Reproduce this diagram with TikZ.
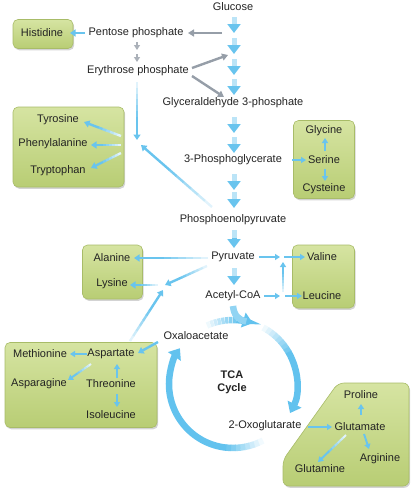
\documentclass[tikz,border=0pt]{standalone}
\usepackage{fontspec}
\setmainfont{Liberation Sans}
\usetikzlibrary{arrows.meta,shadows,calc}
\definecolor{abl}{RGB}{105,196,238}
\definecolor{cyb}{RGB}{98,194,238}
\definecolor{agr}{RGB}{150,158,168}
\definecolor{txt}{RGB}{35,35,35}
\definecolor{boxtop}{RGB}{214,228,162}
\definecolor{boxbot}{RGB}{184,205,116}
\definecolor{boxedge}{RGB}{168,188,104}
\tikzset{
 lbl/.style={font=\fontsize{11}{13}\selectfont, text=txt, inner sep=1pt},
 gbox/.style={rounded corners=5pt, top color=boxtop, bottom color=boxbot, draw=boxedge, line width=0.6pt,
   drop shadow={shadow xshift=1.2pt, shadow yshift=-1.8pt, opacity=0.35}},
 barrow/.style={draw=abl, line width=2.4pt, -{Triangle[width=7pt,length=5.5pt]}},
 sarrow/.style={draw=abl, line width=2pt, -{Triangle[width=6pt,length=5pt]}},
 garrow/.style={draw=agr, line width=2.4pt, -{Triangle[width=7pt,length=6pt]}},
 gsmall/.style={draw=agr!80!white, line width=1.6pt, -{Triangle[width=6pt,length=5pt]}},
 chev/.style={draw=abl, line width=5pt, -{Triangle[width=13pt,length=9pt]}},
 cycline/.style={line width=6.5pt},
}
\newcommand\fadearr[3]{%
  \foreach \k in {0,...,5}{%
    \pgfmathsetmacro\fa{\k/10}%
    \pgfmathsetmacro\fb{(\k+1)/10+0.005}%
    \pgfmathtruncatemacro\pc{20+\k*14}%
    \draw[#1, -, draw=abl!\pc!white] ($(#2)!\fa!(#3)$) -- ($(#2)!\fb!(#3)$);
  }%
  \draw[#1] ($(#2)!0.6!(#3)$) -- (#3);
}
\begin{document}
\begin{tikzpicture}[x=1pt,y=-1pt]
\useasboundingbox (0,0) rectangle (414,493);

% ---------- boxes ----------
\node[gbox, minimum width=60pt, minimum height=29pt] (hisbox) at (43,34) {};
\node[gbox, minimum width=111pt, minimum height=80pt] (tyrbox) at (68.5,147) {};
\node[gbox, minimum width=61pt, minimum height=78pt] (glybox) at (324,159.5) {};
\node[gbox, minimum width=60pt, minimum height=54pt] (alabox) at (112.5,272) {};
\node[gbox, minimum width=62pt, minimum height=63pt] (valbox) at (323.5,276.5) {};
\node[gbox, minimum width=152pt, minimum height=85pt] (metbox) at (81,385) {};
\path[gbox, rounded corners=6pt] (338,383) -- (409,383) -- (409,486) -- (283,486) -- (283,460) -- cycle;

% ---------- main labels ----------
\node[lbl] (glucose) at (233,7) {Glucose};
\node[lbl] (pentose) at (136,33) {Pentose phosphate};
\node[lbl] (erythrose) at (138,71) {Erythrose phosphate};
\node[lbl] (gap) at (233,103) {Glyceraldehyde 3-phosphate};
\node[lbl] (pga) at (233,160) {3-Phosphoglycerate};
\node[lbl] (pep) at (233,220) {Phosphoenolpyruvate};
\node[lbl] (pyr) at (233,257) {Pyruvate};
\node[lbl] (acoa) at (233,296) {Acetyl-CoA};
\node[lbl] (oxa) at (196,336) {Oxaloacetate};
\node[lbl, font=\bfseries\fontsize{11}{13}\selectfont, align=center] (tca) at (232,382) {TCA\\Cycle};
\node[lbl] (oxo) at (265,426) {2-Oxoglutarate};

% ---------- box labels ----------
\node[lbl] (his) at (42,33) {Histidine};
\node[lbl] (tyr) at (58,120) {Tyrosine};
\node[lbl] (phe) at (53,144) {Phenylalanine};
\node[lbl] (trp) at (58,171) {Tryptophan};
\node[lbl] (gly) at (324,131) {Glycine};
\node[lbl] (ser) at (324,160) {Serine};
\node[lbl] (cys) at (324,189) {Cysteine};
\node[lbl] (ala) at (112,258) {Alanine};
\node[lbl] (lys) at (112,284) {Lysine};
\node[lbl] (val) at (322,257) {Valine};
\node[lbl] (leu) at (322,296) {Leucine};
\node[lbl] (met) at (40,354) {Methionine};
\node[lbl] (asp) at (111,354) {Aspartate};
\node[lbl] (asn) at (39,384) {Asparagine};
\node[lbl] (thr) at (111,384) {Threonine};
\node[lbl] (ile) at (111,415) {Isoleucine};
\node[lbl] (pro) at (361,395) {Proline};
\node[lbl] (glu) at (360,427) {Glutamate};
\node[lbl] (arg) at (380,459) {Arginine};
\node[lbl] (gln) at (320,469) {Glutamine};

% ---------- main chain chevrons ----------
\foreach \s/\t [count=\k] in {17/33, 38/54, 59/75, 79/95, 117/133, 137/153, 174/190, 192/208, 230/248, 268/285}{
  \coordinate (cs\k) at (234,\s);
  \coordinate (ce\k) at (234,\t);
  \coordinate (cm\k) at ($(cs\k)!0.45!(ce\k)$);
  \draw[line width=5pt, abl!45!white] (cs\k) -- (cm\k);
  \draw[chev] (cm\k) -- (ce\k);
}

% ---------- coordinates for connectors ----------
\coordinate (chainA) at (222,33);   \coordinate (pentE) at (188,33);
\coordinate (pentW) at (85,33);     \coordinate (hisE) at (70,33);
\coordinate (pd1) at (137,42);      \coordinate (pd2) at (137,50);
\coordinate (pd3) at (137,54);      \coordinate (pd4) at (137,62);
\coordinate (eryA) at (192,68);     \coordinate (chainB) at (228,55);
\coordinate (eryB) at (192,76);     \coordinate (chainC) at (224,97);
\coordinate (eryS) at (137,82);     \coordinate (aroJ) at (137,140);
\coordinate (pepW) at (212,207);    \coordinate (aroJ2) at (141,145);
\coordinate (jT) at (121,136);      \coordinate (tyrE) at (84,122);
\coordinate (jP) at (121,145);      \coordinate (pheE) at (91,145);
\coordinate (jW) at (121,153);      \coordinate (trpE) at (91,168);
\coordinate (pgaE) at (292,160);    \coordinate (serW) at (306,160);
\coordinate (serN) at (325,151);    \coordinate (glyS) at (325,138);
\coordinate (serS) at (325,169);    \coordinate (cysN) at (325,181);
\coordinate (pyrW) at (208,258);    \coordinate (alaE) at (134,258);
\coordinate (pyrSW) at (207,266);   \coordinate (lysJ) at (165,285);
\coordinate (lysJ2) at (158,285);   \coordinate (lysE) at (130,285);
\coordinate (aspN) at (130,341);    \coordinate (lysJ3) at (163,290);
\coordinate (pyrE) at (259,257);    \coordinate (vJa) at (280,257);
\coordinate (vJb) at (284,257);     \coordinate (valW) at (305,257);
\coordinate (vUp1) at (283,292);    \coordinate (vUp2) at (283,262);
\coordinate (acoaE) at (264,296);   \coordinate (lJa) at (280,296);
\coordinate (lJb) at (285,296);     \coordinate (leuW) at (302,296);
\coordinate (oxaW) at (158,342);    \coordinate (aspE) at (138,353);
\coordinate (aspW) at (87,354);     \coordinate (metE) at (70,354);
\coordinate (aspSW) at (91,364);    \coordinate (asnE) at (68,380);
\coordinate (thrN) at (117,378);    \coordinate (aspS) at (117,364);
\coordinate (thrS) at (117,394);    \coordinate (ileN) at (117,407);
\coordinate (oxoE) at (308,427);    \coordinate (gluW) at (332,427);
\coordinate (gluN) at (361,415);    \coordinate (proS) at (361,404);
\coordinate (gluSE) at (364,434);   \coordinate (argN) at (369,449);
\coordinate (gluSW) at (346,435);   \coordinate (glnN) at (318,462);

% ---------- gray connectors ----------
\draw[garrow] (chainA) -- (pentE);
\draw[gsmall] (pd1) -- (pd2);
\draw[gsmall] (pd3) -- (pd4);
\draw[garrow] (eryA) -- (chainB);
\draw[garrow] (eryB) -- (chainC);

% ---------- blue connectors ----------
\draw[barrow] (pentW) -- (hisE);
\fadearr{barrow}{eryS}{aroJ}
\fadearr{barrow}{pepW}{aroJ2}
\fadearr{barrow}{jT}{tyrE}
\fadearr{barrow}{jP}{pheE}
\fadearr{barrow}{jW}{trpE}
\draw[sarrow] (pgaE) -- (serW);
\draw[sarrow] (serN) -- (glyS);
\draw[sarrow] (serS) -- (cysN);
\fadearr{barrow}{pyrW}{alaE}
\fadearr{barrow}{pyrSW}{lysJ}
\fadearr{barrow}{lysJ2}{lysE}
\fadearr{barrow}{aspN}{lysJ3}
\draw[sarrow] (pyrE) -- (vJa);
\draw[sarrow] (vJb) -- (valW);
\fadearr{sarrow}{vUp1}{vUp2}
\draw[sarrow] (acoaE) -- (lJa);
\draw[sarrow] (lJb) -- (leuW);
\draw[barrow] (oxaW) -- (aspE);
\draw[sarrow] (aspW) -- (metE);
\fadearr{sarrow}{aspSW}{asnE}
\draw[sarrow] (thrN) -- (aspS);
\draw[sarrow] (thrS) -- (ileN);
\draw[sarrow] (oxoE) -- (gluW);
\draw[sarrow] (gluN) -- (proS);
\draw[sarrow] (gluSE) -- (argN);
\fadearr{sarrow}{gluSW}{glnN}

% ---------- TCA cycle ----------
\coordinate (cc) at (233,384);
% top arc (fading in, ends with arrowhead)
\foreach \k in {0,...,7}{
  \pgfmathsetmacro\sa{-(114-27*\k/8)}
  \pgfmathsetmacro\ea{-(114-27*(\k+1)/8)-0.4}
  \pgfmathtruncatemacro\pc{10+\k*11}
  \draw[cycline, draw=cyb!\pc!white] ([shift={(cc)}]\sa:64) arc[start angle=\sa, end angle=\ea, radius=64];
}
\draw[cycline, draw=cyb, -{Triangle[width=15pt,length=10pt]}] ([shift={(cc)}]-87:64) arc[start angle=-87, end angle=-72, radius=64];
% acetyl-CoA into the cycle
\coordinate (acoaS) at (233,306);
\coordinate (cycTop) at (246.3,321.4);
\draw[cycline, draw=cyb!70!white] (acoaS) .. controls (234,315) and (238,320) .. (cycTop);
% right arc
\foreach \k in {0,...,7}{
  \pgfmathsetmacro\sa{-(62-32*\k/8)}
  \pgfmathsetmacro\ea{-(62-32*(\k+1)/8)+0.4}
  \pgfmathtruncatemacro\pc{10+\k*11}
  \draw[cycline, draw=cyb!\pc!white] ([shift={(cc)}]\sa:64) arc[start angle=\sa, end angle=\ea, radius=64];
}
\draw[cycline, draw=cyb, -{Triangle[width=15pt,length=10pt]}] ([shift={(cc)}]-30:64) arc[start angle=-30, end angle=27, radius=64];
% bottom / left arc
\foreach \k in {0,...,7}{
  \pgfmathsetmacro\sa{62+34*\k/8}
  \pgfmathsetmacro\ea{62+34*(\k+1)/8+0.4}
  \pgfmathtruncatemacro\pc{8+\k*12}
  \draw[cycline, draw=cyb!\pc!white] ([shift={(cc)}]\sa:64) arc[start angle=\sa, end angle=\ea, radius=64];
}
\draw[cycline, draw=cyb, -{Triangle[width=15pt,length=10pt]}] ([shift={(cc)}]96:64) arc[start angle=96, end angle=214, radius=64];

\end{tikzpicture}
\end{document}
